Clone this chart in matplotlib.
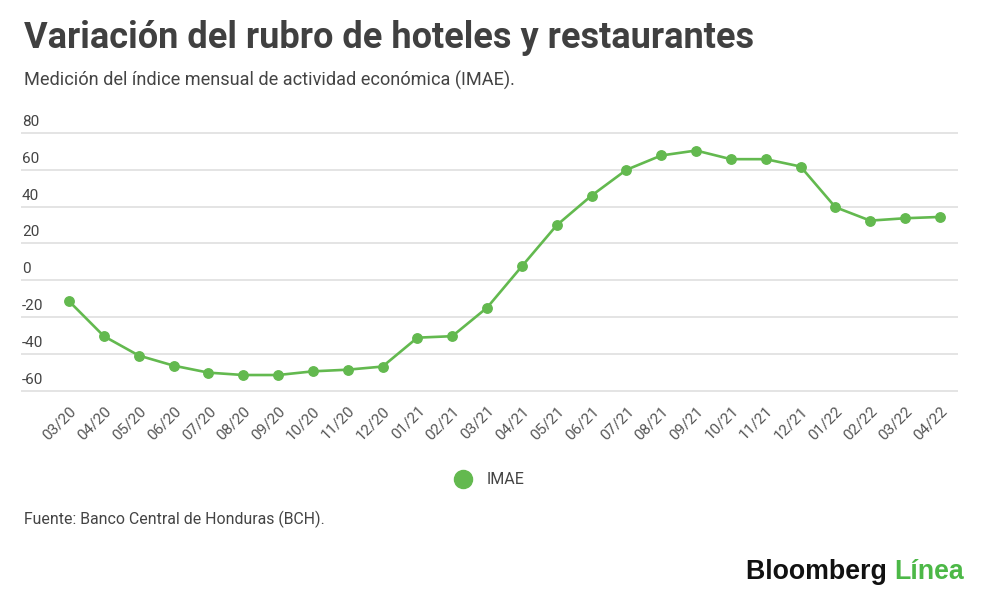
import matplotlib.pyplot as plt
from matplotlib.transforms import blended_transform_factory

plt.rcParams['font.family'] = ['Roboto', 'DejaVu Sans']

months = ['03/20', '04/20', '05/20', '06/20', '07/20', '08/20', '09/20', '10/20',
          '11/20', '12/20', '01/21', '02/21', '03/21', '04/21', '05/21', '06/21',
          '07/21', '08/21', '09/21', '10/21', '11/21', '12/21', '01/22', '02/22',
          '03/22', '04/22']
imae = [-11.4, -30.4, -40.9, -46.4, -50.2, -51.5, -51.5, -49.5, -48.6, -46.9,
        -31.2, -30.4, -14.9, 7.6, 29.9, 46.0, 60.0, 67.8, 70.5, 65.8, 65.8, 61.8,
        39.7, 32.4, 33.7, 34.4]
yticks = [-60, -40, -20, 0, 20, 40, 60, 80]

green = '#63b94f'
text_col = '#444444'

fig = plt.figure(figsize=(10, 6.06), dpi=100)
# y range padded by 1 unit each side so the -60 and 80 gridlines are not clipped
ax = fig.add_axes([0.021, (606 - 392.5) / 606, 0.937, 261.3 / 606])

x = list(range(len(months)))
ax.plot(x, imae, color=green, lw=1.9, marker='o', markersize=6.8, clip_on=False,
        zorder=3)

ax.set_xlim(-1.38, 25.52)
ax.set_ylim(-61, 81)
ax.set_yticks(yticks)
ax.set_yticklabels([])
ax.tick_params(axis='y', length=0)
ax.grid(axis='y', color='#dddddd', lw=1.1)
ax.set_axisbelow(True)
for s in ax.spines.values():
    s.set_visible(False)

trans = blended_transform_factory(ax.transAxes, ax.transData)
for v in yticks:
    ax.text(0.001, v + 2.2, str(v), transform=trans, fontsize=11, color=text_col,
            ha='left', va='bottom')

ax.set_xticks(x)
ax.set_xticklabels(months, rotation=45, ha='right', rotation_mode='anchor',
                   fontsize=11, color='#555555')
ax.tick_params(axis='x', length=0, pad=8)

fig.text(0.024, 1 - 38 / 606, 'Variación del rubro de hoteles y restaurantes',
         fontsize=26, fontweight='bold', color='#404040', ha='left', va='center')
fig.text(0.024, 1 - 80 / 606, 'Medición del índice mensual de actividad económica (IMAE).',
         fontsize=13.1, color=text_col, ha='left', va='center')

# legend
fig.lines.append(plt.Line2D([0.463], [1 - 479 / 606], marker='o', markersize=13,
                            color=green, transform=fig.transFigure))
fig.text(0.487, 1 - 479 / 606, 'IMAE', fontsize=11.5, color=text_col, ha='left',
         va='center')

fig.text(0.024, 1 - 519 / 606, 'Fuente: Banco Central de Honduras (BCH).',
         fontsize=11.4, color=text_col, ha='left', va='center')

# logo
t = fig.text(0.746, 1 - 572 / 606, 'Bloomberg ', fontsize=19.3, fontweight='heavy',
             family='Liberation Sans', color='#111111', ha='left', va='center')
fig.canvas.draw()
bb = t.get_window_extent()
fig.text(bb.x1 / fig.bbox.width, 1 - 572 / 606, 'Línea', fontsize=19.3,
         fontweight='heavy', family='Liberation Sans', color='#4cb847', ha='left',
         va='center')

fig.savefig('out.png', dpi=100, facecolor='white')
